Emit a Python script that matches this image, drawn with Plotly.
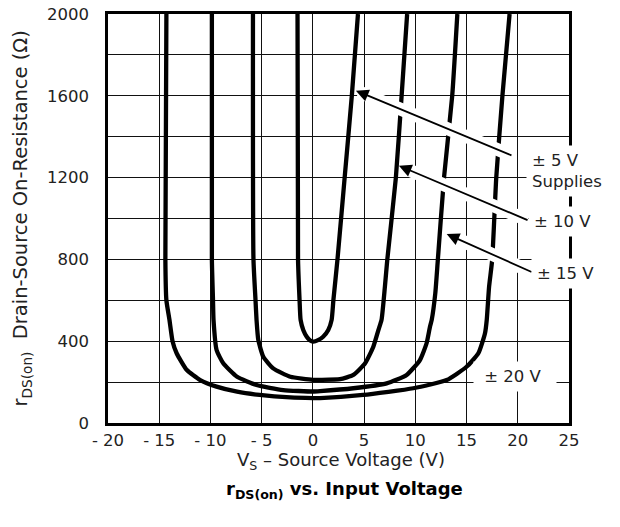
import plotly.graph_objects as go

# ---- data ----
vs_5 = [-1.5, -1.45, -1.3, -1.2, -0.94, -0.6, -0.3, 0.04, 0.5, 1.0, 1.5, 1.83, 2.0, 2.4, 3.1, 3.8, 4.4]
r_5 = [2000, 800, 600, 504, 455, 422, 405, 398, 405, 422, 455, 504, 600, 800, 1200, 1600, 2000]

vs_10 = [-5.85, -5.8, -5.6, -5.5, -5.33, -4.84, -3.87, -2.2, 0.0, 0.7, 2.65, 3.95, 5.1, 5.9, 6.4, 6.7, 7.03, 7.26, 8.1, 8.66, 9.2]
r_10 = [2000, 800, 600, 504, 406, 324, 267, 226, 211, 211, 214, 235, 292, 373, 455, 504, 667, 797, 1200, 1600, 2000]

vs_15 = [-9.86, -9.86, -9.75, -9.7, -9.4, -8.75, -7.4, -5.5, -2.9, 0.0, 0.7, 3.95, 7.2, 9.15, 10.45, 11.1, 11.43, 11.6, 11.95, 12.2, 12.8, 13.6, 14.1]
r_15 = [2000, 800, 600, 504, 357, 292, 226, 186, 161, 154, 156, 170, 194, 235, 308, 390, 471, 504, 635, 800, 1200, 1600, 2000]

vs_20 = [-14.3, -14.4, -14.3, -14.0, -13.7, -13.3, -12.3, -11.0, -9.4, -7.4, -5.2, -2.2, 0.0, 0.7, 4.9, 9.8, 13.06, 15.0, 16.15, 16.8, 16.97, 17.2, 17.5, 17.9, 18.5, 19.2]
r_20 = [2000, 800, 600, 504, 400, 341, 259, 210, 178, 153, 137, 125, 122, 122, 137, 170, 210, 275, 341, 439, 504, 667, 797, 1200, 1600, 2000]

x_tickvals = [-20, -15, -10, -5, 0, 5, 10, 15, 20, 25]
x_ticktext = ["- 20", "- 15", "- 10", "- 5", "0", "5", "10", "15", "20", "25"]
y_tickvals = [0, 200, 400, 600, 800, 1000, 1200, 1400, 1600, 1800, 2000]
y_ticktext = ["0", "", "400", "", "800", "", "1200", "", "1600", "", "2000"]

# labels: (text, x, y)
label_text = ["± 5 V<br>Supplies", "± 10 V", "± 15 V", "&nbsp;± 20 V&nbsp;&nbsp;"]
label_x = [20.8, 21.0, 21.3, 15.63]
label_y = [1232, 983, 733, 225]

# arrows: head (x, y), tail (ax, ay)
arrow_x = [4.2, 8.4, 13.06]
arrow_y = [1625, 1258, 924]
arrow_ax = [19.53, 21.1, 21.5]
arrow_ay = [1306, 989, 735]

FONT = "DejaVu Sans, Verdana, sans-serif"
TXT = "#222"

fig = go.Figure()
for vs, r in [(vs_5, r_5), (vs_10, r_10), (vs_15, r_15), (vs_20, r_20)]:
    fig.add_trace(go.Scatter(x=vs, y=r, mode="lines",
                             line=dict(color="black", width=4.3, shape="spline", smoothing=0.5),
                             hoverinfo="skip", showlegend=False))

annotations = []
# white halos under arrows
for x, y, ax, ay in zip(arrow_x, arrow_y, arrow_ax, arrow_ay):
    annotations.append(dict(x=x, y=y, ax=ax, ay=ay, xref="x", yref="y", axref="x", ayref="y",
                            text="", showarrow=True, arrowhead=0, arrowwidth=13,
                            arrowcolor="white", standoff=3, startstandoff=0))
for x, y, ax, ay in zip(arrow_x, arrow_y, arrow_ax, arrow_ay):
    annotations.append(dict(x=x, y=y, ax=ax, ay=ay, xref="x", yref="y", axref="x", ayref="y",
                            text="", showarrow=True, arrowhead=2, arrowsize=1.4, arrowwidth=1.8,
                            arrowcolor="black", standoff=0))
for t, x, y in zip(label_text, label_x, label_y):
    annotations.append(dict(x=x, y=y, xref="x", yref="y", text=t, showarrow=False,
                            xanchor="left", yanchor="middle", align="left",
                            bgcolor="white", borderpad=5,
                            font=dict(family=FONT, size=16.5, color=TXT)))

# axis titles and chart title
annotations.append(dict(x=0.505, y=-0.094, xref="paper", yref="paper", showarrow=False,
                        text="V<sub>S</sub> – Source Voltage (V)", yanchor="middle",
                        font=dict(family=FONT, size=18, color=TXT)))
annotations.append(dict(x=0.513, y=-0.163, xref="paper", yref="paper", showarrow=False,
                        text="<b>r<sub>DS(on)</sub> vs. Input Voltage</b>", yanchor="middle",
                        font=dict(family=FONT, size=18, color="black")))
annotations.append(dict(x=-0.1866, y=0.5, xref="paper", yref="paper", showarrow=False,
                        text="r<sub>DS(on)</sub>&nbsp;&nbsp;Drain-Source On-Resistance (Ω)",
                        textangle=-90, xanchor="center", yanchor="middle",
                        font=dict(family=FONT, size=19.5, color=TXT)))

fig.update_layout(
    width=620, height=527,
    margin=dict(l=108, r=51, t=14, b=104, autoexpand=False),
    paper_bgcolor="white", plot_bgcolor="white",
    showlegend=False,
    annotations=annotations,
    font=dict(family=FONT, size=16.5, color=TXT),
)
fig.update_xaxes(range=[-20, 25], tickvals=x_tickvals, ticktext=x_ticktext,
                 showgrid=True, gridcolor="#111", gridwidth=1,
                 zeroline=True, zerolinecolor="#111", zerolinewidth=1,
                 showline=True, linecolor="black", linewidth=2.5, mirror=True,
                 ticks="", ticklabelstandoff=0, ticklabeloverflow="allow",
                 tickfont=dict(family=FONT, size=16.5, color=TXT))
fig.update_yaxes(range=[0, 2000], tickvals=y_tickvals, ticktext=y_ticktext,
                 showgrid=True, gridcolor="#111", gridwidth=1,
                 zeroline=False,
                 showline=True, linecolor="black", linewidth=2.5, mirror=True,
                 ticks="", ticklabelstandoff=13, ticklabeloverflow="allow",
                 tickfont=dict(family=FONT, size=16.5, color=TXT))

# remove the browser's default 8 px body margin so the figure sits at the page corner
fig.write_html("out.html", config={"displayModeBar": False},
               post_script="document.body.style.margin='0px';")
